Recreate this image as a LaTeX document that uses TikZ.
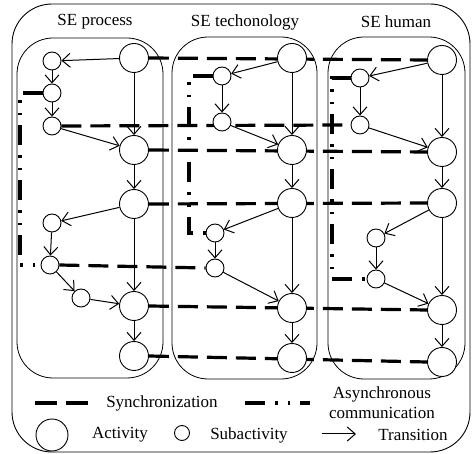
\documentclass[tikz,border=0pt]{standalone}
\usepackage{fontspec}
\setmainfont{Liberation Serif}
\usetikzlibrary{arrows.meta,backgrounds}
\begin{document}
\begin{tikzpicture}[x=1pt,y=-1pt,
  act/.style={circle,draw,fill=white,minimum size=29pt,inner sep=0pt,line width=0.9pt},
  sub/.style={circle,draw,fill=white,minimum size=18pt,inner sep=0pt,line width=0.9pt},
  trans/.style={-{Straight Barb[length=8pt,width=14pt]},line width=1pt},
  sync/.style={line width=3.2pt,dash pattern=on 20pt off 9pt},
  async/.style={line width=3.2pt,dash pattern=on 20pt off 10pt on 2.5pt off 10pt on 2.5pt off 10pt},
  lane/.style={draw,line width=0.8pt,rounded corners=36pt},
  lbl/.style={font=\fontsize{17}{20}\selectfont,inner sep=0pt,align=center}]
\useasboundingbox (0,0) rectangle (472,454);

% frames
\draw[line width=0.9pt,rounded corners=40pt] (12,4) rectangle (470,452);
\draw[lane] (17,38) rectangle (163,378);
\draw[lane] (172,37) rectangle (317,379);
\draw[lane] (328,37) rectangle (465,379);

% titles
\node[lbl] (t1lbl) at (95,22) {SE process};
\node[lbl] (t2lbl) at (245,22) {SE techonology};
\node[lbl] (t3lbl) at (396,22) {SE human};

% lane 1 nodes
\node[act] (A1) at (134,58) {};
\node[sub] (s1) at (52,61) {};
\node[sub] (s2) at (52,93) {};
\node[sub] (s3) at (52,126) {};
\node[act] (A2) at (134,150) {};
\node[act] (A3) at (134,204) {};
\node[sub] (s4) at (52,223) {};
\node[sub] (s5) at (50,265) {};
\node[sub] (s6) at (81,298) {};
\node[act] (A4) at (134,306) {};
\node[act] (A5) at (134,356) {};
% lane 2 nodes
\node[act] (B1) at (292,58) {};
\node[sub] (t1) at (222,76) {};
\node[sub] (t2) at (222,122) {};
\node[act] (B2) at (292,150) {};
\node[act] (B3) at (292,203) {};
\node[sub] (t3) at (215,233) {};
\node[sub] (t4) at (215,268) {};
\node[act] (B4) at (292,308) {};
\node[act] (B5) at (292,358) {};
% lane 3 nodes
\node[act] (C1) at (442,60) {};
\node[sub] (u1) at (360,78) {};
\node[sub] (u2) at (360,125) {};
\node[act] (C2) at (442,152) {};
\node[act] (C3) at (442,203) {};
\node[sub] (u3) at (376,238) {};
\node[sub] (u4) at (376,279) {};
\node[act] (C4) at (442,310) {};
\node[act] (C5) at (442,362) {};

% corner coordinates for async lines
\coordinate (a1) at (20,93);
\coordinate (a2) at (20,265);
\coordinate (b1) at (189,76);
\coordinate (b2) at (189,233);
\coordinate (c1) at (332,78);
\coordinate (c2) at (332,279);

\begin{pgfonlayer}{background}
  % synchronization
  \draw[sync] (A1.east) -- (C1.west);
  \draw[sync] (s3.east) -- (u2.west);
  \draw[sync] (A2.east) -- (C2.west);
  \draw[sync] (A3.east) -- (C3.west);
  \draw[sync] (s5.east) -- (t4.west);
  \draw[sync] (A4.east) -- (C4.west);
  \draw[sync] (A5.east) -- (C5.west);
  % asynchronous communication
  \draw[async] (s2.west) -- (a1) -- (a2) -- (s5.west);
  \draw[async] (t1.west) -- (b1) -- (b2) -- (t3.west);
  \draw[async] (u1.west) -- (c1) -- (c2) -- (u4.west);
\end{pgfonlayer}

% transitions lane 1
\draw[trans] (A1) -- (s1);
\draw[trans] (s1) -- (s2);
\draw[trans] (s2) -- (s3);
\draw[trans] (s3) -- (A2);
\draw[trans] (A1) -- (A2);
\draw[trans] (A2) -- (A3);
\draw[trans] (A3) -- (s4);
\draw[trans] (s4) -- (s5);
\draw[trans] (s5) -- (s6);
\draw[trans] (s6) -- (A4);
\draw[trans] (A3) -- (A4);
\draw[trans] (A4) -- (A5);
% lane 2
\draw[trans] (B1) -- (t1);
\draw[trans] (t1) -- (t2);
\draw[trans] (t2) -- (B2);
\draw[trans] (B1) -- (B2);
\draw[trans] (B2) -- (B3);
\draw[trans] (B3) -- (t3);
\draw[trans] (t3) -- (t4);
\draw[trans] (t4) -- (B4);
\draw[trans] (B3) -- (B4);
\draw[trans] (B4) -- (B5);
% lane 3
\draw[trans] (C1) -- (u1);
\draw[trans] (u1) -- (u2);
\draw[trans] (u2) -- (C2);
\draw[trans] (C1) -- (C2);
\draw[trans] (C2) -- (C3);
\draw[trans] (C3) -- (u3);
\draw[trans] (u3) -- (u4);
\draw[trans] (u4) -- (C4);
\draw[trans] (C3) -- (C4);
\draw[trans] (C4) -- (C5);

% legend
\coordinate (ls1) at (35,403);
\coordinate (ls2) at (88,403);
\draw[line width=3.2pt,dash pattern=on 22pt off 9pt] (ls1) -- (ls2);
\node[lbl] (lsync) at (162,403) {Synchronization};
\coordinate (la1) at (245,403);
\coordinate (la2) at (310,403);
\draw[async] (la1) -- (la2);
\node[lbl] (lasync) at (382,403) {Asynchronous\\communication};
\node[act,minimum size=32pt] (lact) at (52,435) {};
\node[lbl] (lacttxt) at (120,435) {Activity};
\node[sub,minimum size=15pt] (lsub) at (182,433) {};
\node[lbl] (lsubtxt) at (249,435) {Subactivity};
\coordinate (lt1) at (322,434);
\coordinate (lt2) at (356,434);
\draw[trans] (lt1) -- (lt2);
\node[lbl] (ltrans) at (413,435) {Transition};
\end{tikzpicture}
\end{document}
